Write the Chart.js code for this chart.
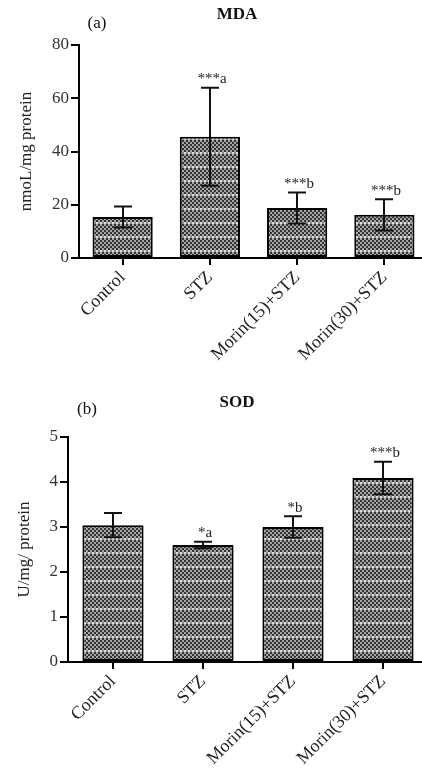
<!DOCTYPE html>
<html>
<head>
<meta charset="utf-8">
<script src="https://cdn.jsdelivr.net/npm/chart.js@4.4.1/dist/chart.umd.min.js"></script>
<style>
  html, body { margin: 0; padding: 0; background: #fff; overflow: hidden; width: 422px; height: 773px; }
  .panel { position: absolute; left: 0; }
  #panelA { top: 0; }
  #panelB { top: 386px; }
</style>
</head>
<body>
<div class="panel" id="panelA"><canvas id="mdaChart" width="432" height="386"></canvas></div>
<div class="panel" id="panelB"><canvas id="sodChart" width="432" height="400"></canvas></div>
<script>
// groups on the x axis
const groups = ['Control', 'STZ', 'Morin(15)+STZ', 'Morin(30)+STZ'];

// (a) MDA, nmoL/mg protein
const mdaMean = [15.4, 45.5, 18.8, 16.2];
const mdaErr = [3.9, 18.4, 5.8, 5.9];
const mdaMarks = ['', '***a', '***b', '***b'];
const mdaTicks = [0, 20, 40, 60, 80];

// (b) SOD, U/mg protein
const sodMean = [3.04, 2.6, 3.0, 4.09];
const sodErr = [0.27, 0.07, 0.24, 0.36];
const sodMarks = ['', '*a', '*b', '***b'];
const sodTicks = [0, 1, 2, 3, 4, 5];

const serif = '"Liberation Serif", "Times New Roman", serif';

// dotted grey fill like the original print
function makeFill(ctx) {
  const c = document.createElement('canvas');
  c.width = 4; c.height = 14;
  const g = c.getContext('2d');
  for (let y = 0; y < 14; y++) {
    for (let x = 0; x < 4; x++) {
      const light = (Math.floor(x / 2) + Math.floor(y / 2)) % 2 === 0;
      if (y >= 12) g.fillStyle = light ? '#dcdcdc' : '#8a8a8a';
      else g.fillStyle = light ? '#a4a4a4' : '#343434';
      g.fillRect(x, y, 1, 1);
    }
  }
  return ctx.createPattern(c, 'repeat');
}

// error bars (mean +/- error) and significance marks
const errorBars = {
  id: 'errorBars',
  afterDatasetsDraw(chart) {
    const ctx = chart.ctx;
    const yScale = chart.scales.y;
    const ds = chart.data.datasets[0];
    const meta = chart.getDatasetMeta(0);
    ctx.save();
    ctx.strokeStyle = '#111';
    ctx.lineWidth = 2;
    meta.data.forEach((bar, i) => {
      const v = ds.data[i];
      const e = ds.errors[i];
      const top = yScale.getPixelForValue(v + e);
      const bot = yScale.getPixelForValue(v - e);
      const x = Math.round(bar.x);
      ctx.beginPath();
      ctx.moveTo(x, top); ctx.lineTo(x, bot);
      ctx.moveTo(x - 9, top); ctx.lineTo(x + 9, top);
      ctx.moveTo(x - 9, bot); ctx.lineTo(x + 9, bot);
      ctx.stroke();
      if (ds.marks[i]) {
        ctx.fillStyle = '#222';
        ctx.font = '15px ' + serif;
        ctx.textAlign = 'center';
        ctx.textBaseline = 'bottom';
        ctx.fillText(ds.marks[i], x + 2, top - 1);
      }
    });
    ctx.restore();
  }
};

// panel letter and heading
const panelText = {
  id: 'panelText',
  afterDraw(chart, args, opts) {
    const ctx = chart.ctx;
    ctx.save();
    ctx.fillStyle = '#111';
    ctx.textAlign = 'center';
    ctx.textBaseline = 'middle';
    ctx.font = 'bold 17px ' + serif;
    ctx.fillText(opts.title, opts.titleX, opts.titleY);
    ctx.font = '17px ' + serif;
    ctx.fillText(opts.tag, opts.tagX, opts.tagY);
    ctx.restore();
  }
};

function drawPanel(id, values, errors, marks, ticks, yTitle, text, box) {
  const ctx = document.getElementById(id).getContext('2d');
  return new Chart(ctx, {
    type: 'bar',
    data: {
      labels: groups,
      datasets: [{
        data: values,
        errors: errors,
        marks: marks,
        backgroundColor: makeFill(ctx),
        borderColor: '#000',
        borderWidth: 2,
        borderSkipped: false,
        barPercentage: box.bar,
        categoryPercentage: 1,
      }],
    },
    options: {
      responsive: false,
      animation: false,
      layout: { padding: { top: box.top, right: 4, left: 0, bottom: 0 } },
      plugins: {
        legend: { display: false },
        tooltip: { enabled: false },
        panelText: text,
      },
      scales: {
        x: {
          afterFit: (s) => { s.height = box.xHeight; },
          border: { color: '#000', width: 2 },
          grid: { offset: false, drawOnChartArea: false, color: '#000', lineWidth: 2, tickLength: 7 },
          ticks: {
            color: '#222',
            font: { family: serif, size: 18 },
            minRotation: 45,
            maxRotation: 45,
            padding: 2,
          },
        },
        y: {
          min: 0,
          max: ticks[ticks.length - 1],
          afterFit: (s) => { s.width = box.yWidth; },
          afterBuildTicks: (s) => { s.ticks = ticks.map(v => ({ value: v })); },
          border: { color: '#000', width: 2 },
          grid: { drawOnChartArea: false, color: '#000', lineWidth: 2, tickLength: 8 },
          ticks: {
            color: '#333',
            font: { family: serif, size: 17 },
            padding: 2,
          },
          title: {
            display: true,
            text: yTitle,
            color: '#222',
            font: { family: serif, size: 17 },
            padding: { top: box.titlePad, bottom: 0 },
          },
        },
      },
    },
    plugins: [errorBars, panelText],
  });
}

drawPanel('mdaChart', mdaMean, mdaErr, mdaMarks, mdaTicks, 'nmoL/mg protein',
  { title: 'MDA', titleX: 237, titleY: 15, tag: '(a)', tagX: 97, tagY: 24 },
  { top: 45, xHeight: 128, yWidth: 79, titlePad: 16, bar: 0.69 });

drawPanel('sodChart', sodMean, sodErr, sodMarks, sodTicks, 'U/mg/ protein',
  { title: 'SOD', titleX: 237, titleY: 17, tag: '(b)', tagX: 87, tagY: 24 },
  { top: 51, xHeight: 124, yWidth: 68, titlePad: 14, bar: 0.68 });
</script>
</body>
</html>
